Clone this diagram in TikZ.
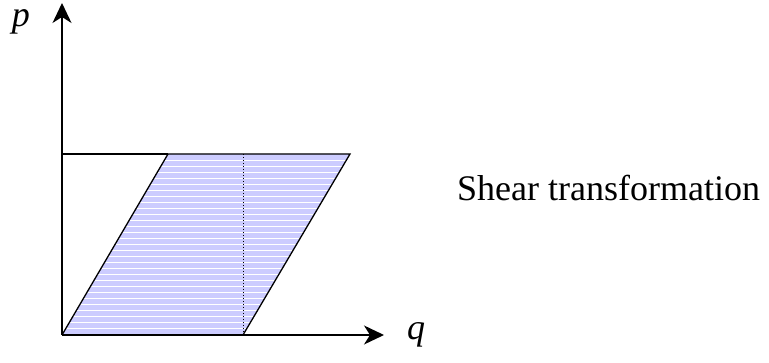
\documentclass[tikz,border=0pt]{standalone}
\usepackage{fontspec}
\setmainfont{Liberation Serif}
\usetikzlibrary{arrows.meta}
\definecolor{paleblue}{RGB}{204,204,255}
\tikzset{
  axis/.style={line width=1.5pt,-{Stealth[length=20pt,width=19pt,inset=6pt]}},
  edge/.style={line width=1.3pt},
  lbl/.style={font=\fontsize{36}{40}\selectfont\itshape, inner sep=0pt},
}
\begin{document}
\begin{tikzpicture}[x=1pt,y=-1pt]
\useasboundingbox (0,0) rectangle (769,363);
\coordinate (O) at (62,335);
\coordinate (B) at (243,335);
\coordinate (TL) at (168,154);
\coordinate (TR) at (350,154);
\coordinate (RT) at (62,154);
\coordinate (DT) at (243,154);
\coordinate (XE) at (384,335);
\coordinate (YE) at (62,3);
% fill
\fill[paleblue] (O) -- (B) -- (TR) -- (TL) -- cycle;
\begin{scope}
\clip (O) -- (B) -- (TR) -- (TL) -- cycle;
\foreach \y in {160,166,...,334} {
  \draw[white, line width=0.9pt] (0,\y) -- (400,\y);
}
\end{scope}
\draw[dotted, line width=1pt] (DT) -- (B);
\draw[edge] (O) -- (TL) -- (TR) -- (B);
\draw[edge] (RT) -- (TL);
\draw[axis] (O) -- (XE);
\draw[axis] (O) -- (YE);
\node[lbl, anchor=base] (p) at (21,27) {p};
\node[lbl, anchor=base] (q) at (416,340) {q};
\node[font=\fontsize{36}{40}\selectfont, anchor=base west, inner sep=0pt] (t) at (457,201) {Shear transformation};
\end{tikzpicture}
\end{document}
